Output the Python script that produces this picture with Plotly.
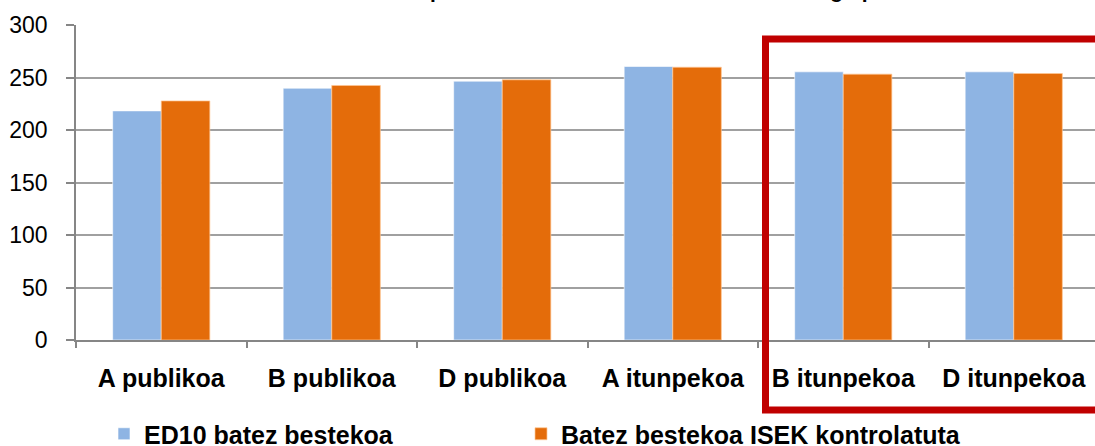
import plotly.graph_objects as go

categories = ["A publikoa", "B publikoa", "D publikoa", "A itunpekoa", "B itunpekoa", "D itunpekoa"]
ed10_mean = [218.2, 239.8, 246.5, 260.5, 255.4, 255.4]
isek_controlled = [227.7, 242.4, 247.8, 259.8, 253.2, 253.8]
series_names = ["ED10 batez bestekoa", "Batez bestekoa ISEK kontrolatuta"]
title_text = "ED10 batez besteko puntuazioa eta ISEK kontrolatu ondorengo puntuazioa"

W, H = 1095, 446
ML, MR, MT, MB = 76, 0, 25, 446 - 340
pw = W - ML - MR
ph = H - MT - MB
cat_px = 170.5

def px_x(page_x):
    return (page_x - ML) / pw

def px_y(page_y):
    return (H - MB - page_y) / ph

fig = go.Figure()
fig.add_trace(go.Bar(x=categories, y=ed10_mean, name=series_names[0], legend="legend", showlegend=True,
                     marker=dict(color="#8EB4E3", line=dict(color="rgba(255,255,255,0.6)", width=1))))
fig.add_trace(go.Bar(x=categories, y=isek_controlled, name=series_names[1], legend="legend2", showlegend=True,
                     marker=dict(color="#E46C0A", line=dict(color="rgba(255,200,150,0.7)", width=1))))

fig.add_shape(type="rect", xref="paper", yref="paper",
              x0=px_x(765.5), x1=px_x(1120), y0=px_y(410), y1=px_y(39),
              line=dict(color="#C00000", width=7), fillcolor="rgba(0,0,0,0)", layer="above")

fig.add_annotation(text="<b>" + title_text + "</b>", xref="paper", yref="paper",
                   x=px_x(600), y=px_y(-9.5), xanchor="center", yanchor="middle",
                   showarrow=False, font=dict(family="Liberation Sans", size=21, color="#000000"))

legend_font = dict(family="Liberation Sans", size=25, color="#000000", weight="bold")

fig.update_layout(
    width=W, height=H, showlegend=True,
    margin=dict(l=ML, r=MR, t=MT, b=MB, autoexpand=False),
    paper_bgcolor="white", plot_bgcolor="white",
    barmode="group", bargap=0.43, bargroupgap=0,
    font=dict(family="Liberation Sans", color="#000000"),
    legend=dict(orientation="h", xref="container", yref="container",
                x=104 / W, y=(H - 434) / H, xanchor="left", yanchor="middle",
                font=legend_font, bgcolor="rgba(0,0,0,0)"),
    legend2=dict(orientation="h", xref="container", yref="container",
                 x=521 / W, y=(H - 434) / H, xanchor="left", yanchor="middle",
                 font=legend_font, bgcolor="rgba(0,0,0,0)"),
    xaxis=dict(range=[-0.5, -0.5 + pw / cat_px], showline=True, linecolor="#868686", linewidth=1.5,
               ticks="outside", ticklen=6, tickcolor="#868686", tickwidth=1.5,
               tickson="boundaries", showgrid=False,
               tickfont=dict(family="Liberation Sans", size=25, color="#000000", weight="bold"),
               ticklabelstandoff=15),
    yaxis=dict(range=[0, 300], dtick=50, showline=True, linecolor="#868686", linewidth=1.5,
               ticks="outside", ticklen=8, tickcolor="#868686", tickwidth=1.5,
               showgrid=True, gridcolor="#A0A0A0", gridwidth=1.5, zeroline=False,
               tickfont=dict(family="Liberation Sans", size=23, color="#000000"),
               ticklabelstandoff=14),
)

fig.write_html("out.html", config={"displayModeBar": False},
               post_script="document.body.style.margin='0';")
